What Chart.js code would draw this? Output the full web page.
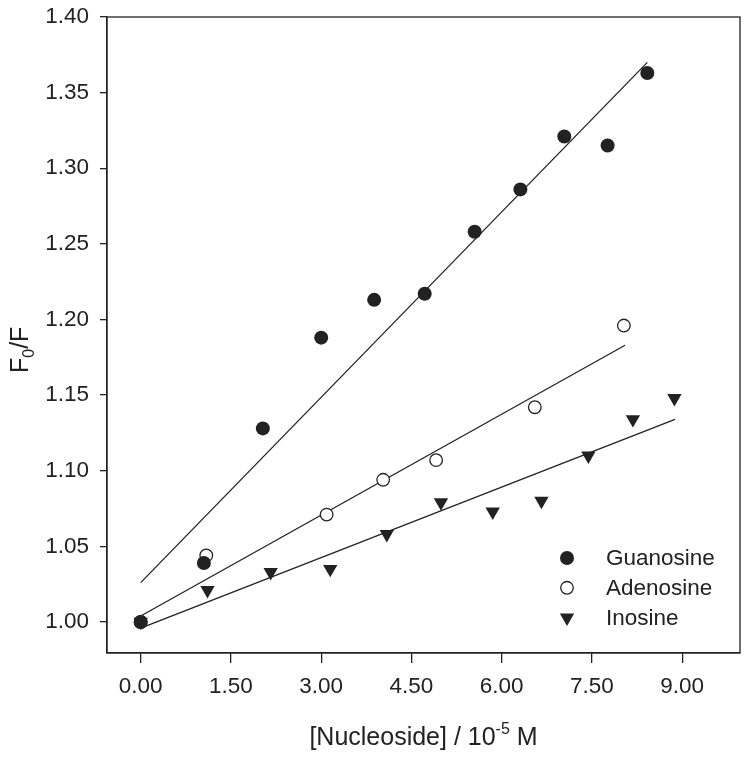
<!DOCTYPE html>
<html>
<head>
    <title>Nucleoside quenching</title>
    <script src="https://cdn.jsdelivr.net/npm/chart.js@4.4.1/dist/chart.umd.min.js"></script>
    <style>
        body { margin: 0; background: #fff; }
        #wrap { width: 751px; height: 760px; }
    </style>
</head>
<body>
    <div id="wrap"><canvas id="myChart"></canvas></div>

    <script>
        // points
        const guanX = [0, 1.05, 2.03, 3.00, 3.88, 4.72, 5.55, 6.31, 7.04, 7.76, 8.42];
        const guanY = [1.000, 1.039, 1.128, 1.188, 1.213, 1.217, 1.258, 1.286, 1.321, 1.315, 1.363];
        const adenX = [0, 1.09, 3.09, 4.03, 4.91, 6.55, 8.03];
        const adenY = [1.000, 1.044, 1.071, 1.094, 1.107, 1.142, 1.196];
        const inoX = [0, 1.11, 2.16, 3.15, 4.09, 4.99, 5.85, 6.66, 7.44, 8.18, 8.87];
        const inoY = [1.000, 1.021, 1.033, 1.035, 1.058, 1.079, 1.073, 1.080, 1.110, 1.134, 1.148];

        // fitted lines, start and end
        const guanFitX = [0, 8.42];
        const guanFitY = [1.026, 1.370];
        const adenFitX = [0, 8.05];
        const adenFitY = [1.004, 1.183];
        const inoFitX = [0, 8.88];
        const inoFitY = [0.996, 1.134];

        const seriesNames = ['Guanosine', 'Adenosine', 'Inosine'];
        const xTicks = [0, 1.5, 3, 4.5, 6, 7.5, 9];
        const yTicks = [1.00, 1.05, 1.10, 1.15, 1.20, 1.25, 1.30, 1.35, 1.40];

        const pts = (xs, ys) => xs.map((x, i) => ({ x: x, y: ys[i] }));
        const FONT = '"Liberation Sans", Arial, sans-serif';
        const INK = '#222';

        function fitLine(xs, ys) {
            return {
                type: 'line',
                data: pts(xs, ys),
                borderColor: INK,
                borderWidth: 1.3,
                pointRadius: 0,
                fill: false,
                order: 1
            };
        }

        function marker(ctx, style, x, y) {
            ctx.beginPath();
            if (style === 'triangle') {
                const r = 8.3;
                ctx.moveTo(x, y + r);
                ctx.lineTo(x - r * 0.866, y - r / 2);
                ctx.lineTo(x + r * 0.866, y - r / 2);
                ctx.closePath();
                ctx.fillStyle = INK;
                ctx.fill();
            } else if (style === 'open') {
                ctx.arc(x, y, 6.3, 0, Math.PI * 2);
                ctx.fillStyle = '#fff';
                ctx.fill();
                ctx.lineWidth = 1.3;
                ctx.strokeStyle = INK;
                ctx.stroke();
            } else {
                ctx.arc(x, y, 7, 0, Math.PI * 2);
                ctx.fillStyle = INK;
                ctx.fill();
            }
        }

        const decorations = {
            id: 'decorations',
            afterDraw(chart) {
                const { ctx, chartArea: a } = chart;
                ctx.save();
                // full box round the plot
                ctx.strokeStyle = INK;
                ctx.lineWidth = 1.3;
                ctx.strokeRect(a.left, a.top, a.right - a.left, a.bottom - a.top);

                // legend inside, lower right
                const styles = ['filled', 'open', 'triangle'];
                ctx.font = '22.5px ' + FONT;
                ctx.textBaseline = 'middle';
                ctx.textAlign = 'left';
                seriesNames.forEach((name, i) => {
                    const y = 558 + i * 29.8;
                    marker(ctx, styles[i], 567, y);
                    ctx.fillStyle = INK;
                    ctx.fillText(name, 606, y + 1);
                });

                // x title with superscript
                ctx.textBaseline = 'alphabetic';
                const big = '25px ' + FONT, small = '16px ' + FONT;
                const parts = [['[Nucleoside] / 10', big, 0], ['-5', small, -11], [' M', big, 0]];
                let w = 0;
                parts.forEach(p => { ctx.font = p[1]; w += ctx.measureText(p[0]).width; });
                let x = (a.left + a.right) / 2 - w / 2;
                parts.forEach(p => {
                    ctx.font = p[1];
                    ctx.fillText(p[0], x, 745 + p[2]);
                    x += ctx.measureText(p[0]).width;
                });

                // y title with subscript
                ctx.translate(28, 373);
                ctx.rotate(-Math.PI / 2);
                const yParts = [['F', big, 0], ['0', small, 6], ['/F', big, 0]];
                x = 0;
                yParts.forEach(p => {
                    ctx.font = p[1];
                    ctx.fillText(p[0], x, p[2]);
                    x += ctx.measureText(p[0]).width;
                });
                ctx.restore();
            }
        };

        const ctx = document.getElementById('myChart').getContext('2d');
        new Chart(ctx, {
            type: 'scatter',
            data: {
                datasets: [
                    {
                        label: seriesNames[0],
                        data: pts(guanX, guanY),
                        pointStyle: 'circle',
                        pointRadius: 7,
                        backgroundColor: INK,
                        borderColor: INK,
                        borderWidth: 0,
                        order: 0
                    },
                    {
                        label: seriesNames[1],
                        data: pts(adenX, adenY),
                        pointStyle: 'circle',
                        pointRadius: 6.3,
                        backgroundColor: '#fff',
                        borderColor: INK,
                        borderWidth: 1.3,
                        order: 0
                    },
                    {
                        label: seriesNames[2],
                        data: pts(inoX, inoY),
                        pointStyle: 'triangle',
                        rotation: 180,
                        pointRadius: 8.3,
                        backgroundColor: INK,
                        borderColor: INK,
                        borderWidth: 0,
                        order: 0
                    },
                    fitLine(guanFitX, guanFitY),
                    fitLine(adenFitX, adenFitY),
                    fitLine(inoFitX, inoFitY)
                ]
            },
            options: {
                responsive: true,
                maintainAspectRatio: false,
                animation: false,
                layout: { padding: { top: 17, right: 11, left: 0, bottom: 0 } },
                plugins: {
                    legend: { display: false },
                    tooltip: { enabled: false }
                },
                scales: {
                    x: {
                        type: 'linear',
                        min: -0.56,
                        max: 9.96,
                        afterBuildTicks: s => { s.ticks = xTicks.map(v => ({ value: v })); },
                        afterFit: s => { s.height = 107; s.paddingLeft = 0; s.paddingRight = 0; },
                        grid: { drawOnChartArea: false, drawTicks: true, tickLength: 10, color: INK, lineWidth: 1.3 },
                        border: { display: true, color: INK, width: 1.3 },
                        ticks: {
                            color: INK,
                            padding: 10,
                            maxRotation: 0,
                            font: { family: FONT, size: 22.5 },
                            callback: v => v.toFixed(2)
                        }
                    },
                    y: {
                        type: 'linear',
                        min: 0.9795,
                        max: 1.40,
                        afterBuildTicks: s => { s.ticks = yTicks.map(v => ({ value: v })); },
                        afterFit: s => { s.width = 107; s.paddingTop = 0; s.paddingBottom = 0; },
                        grid: { drawOnChartArea: false, drawTicks: true, tickLength: 7, color: INK, lineWidth: 1.3 },
                        border: { display: true, color: INK, width: 1.3 },
                        ticks: {
                            color: INK,
                            padding: 11,
                            font: { family: FONT, size: 22.5 },
                            callback: v => v.toFixed(2)
                        }
                    }
                }
            },
            plugins: [decorations]
        });
    </script>
</body>
</html>
